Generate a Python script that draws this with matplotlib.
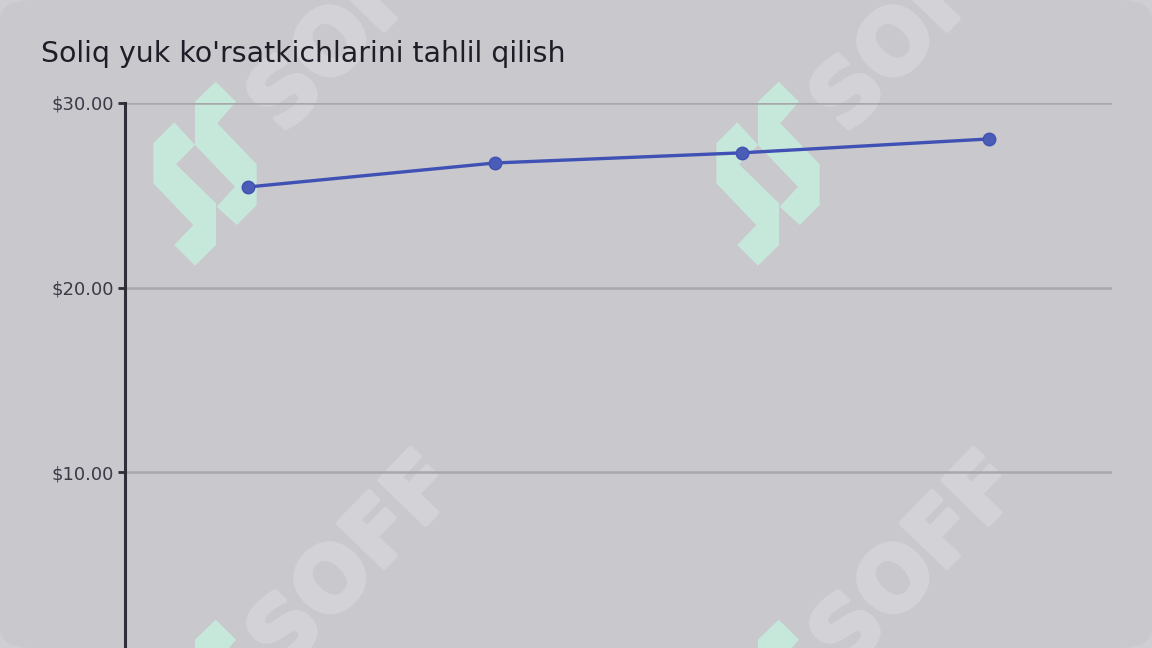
import matplotlib
matplotlib.use("Agg")
import matplotlib.pyplot as plt
import matplotlib.patheffects as pe
from matplotlib.patches import FancyBboxPatch, Polygon
from matplotlib.ticker import FuncFormatter

# data
periods = ["2020", "2021", "2022", "2023"]
tax_burden = [25.45, 26.75, 27.3, 28.05]

W, H = 1152, 648
fig = plt.figure(figsize=(W / 100, H / 100), dpi=100)
fig.patch.set_facecolor("#cfced2")

# rounded panel
fig.patches.append(FancyBboxPatch((0, 0), 1, 1,
                                  boxstyle="round,pad=0,rounding_size=0.03",
                                  transform=fig.transFigure, facecolor="#c9c8cd",
                                  edgecolor="none", zorder=-3))


def px(pts):
    return [(x / W, 1 - y / H) for x, y in pts]


# watermark logo pieces (pixel coords of the first logo)
logo_a = [(195, 101.7), (215.7, 81.7), (236, 101.7), (217.3, 123.3), (256.7, 164.3),
          (256.7, 205), (236.7, 225), (216.7, 206.7), (235, 186.7), (195, 145)]
logo_b = [(153.3, 143.3), (174.3, 122.3), (195, 145), (176, 164.3), (216, 203.3),
          (216, 245), (195, 265.7), (174.3, 245), (193.3, 225), (153.3, 183.3)]
wm_color = "#d3d2d7"
for dx in (0, 563):
    for dy in (0, 538):
        for piece in (logo_a, logo_b):
            fig.patches.append(Polygon(px([(x + dx, y + dy) for x, y in piece]),
                                       closed=True, transform=fig.transFigure,
                                       facecolor="#c6e8da", edgecolor="none", zorder=-2))
        cy = 26 if dy == 0 else 563
        fig.text((355 + dx) / W, 1 - cy / H, "SOFF", rotation=46, fontsize=63,
                 fontweight="bold", color=wm_color, ha="center", va="center",
                 zorder=-2, rotation_mode="anchor",
                 path_effects=[pe.withStroke(linewidth=3.5, foreground=wm_color)])

ax = fig.add_axes([125 / W, 1 - 656.5 / H, (1112 - 125) / W, (656.5 - 103) / H])
ax.patch.set_visible(False)

x = list(range(len(periods)))
ax.plot(x, tax_burden, color="#3f51b5", lw=2.4, marker="o", ms=9,
        markerfacecolor="#4a5cb5", markeredgecolor="#3f51b5", zorder=3)

ax.set_xlim(-0.5, len(periods) - 0.5)
ax.set_ylim(0, 30)
ax.set_xticks(x)
ax.set_xticklabels(periods)
ax.set_yticks([10, 20, 30])
ax.yaxis.set_major_formatter(FuncFormatter(lambda v, p: f"${v:.2f}"))

ax.grid(axis="y", color="#a8a7ac", lw=1.8)
ax.set_axisbelow(True)
for s in ("top", "right", "bottom"):
    ax.spines[s].set_visible(False)
ax.spines["left"].set_color("#2e2e38")
ax.spines["left"].set_linewidth(2.2)
ax.tick_params(axis="y", length=5, width=2, color="#2e2e38", labelsize=13,
               labelcolor="#3a3a48", pad=3)
# category labels sit below the visible area of the chart
ax.tick_params(axis="x", length=0, labelbottom=False)

fig.text(41 / W, 1 - 62 / H, "Soliq yuk ko'rsatkichlarini tahlil qilish",
         fontsize=20.4, color="#1e1e28", ha="left", va="baseline")

fig.savefig("out.png", dpi=100, facecolor=fig.get_facecolor())
